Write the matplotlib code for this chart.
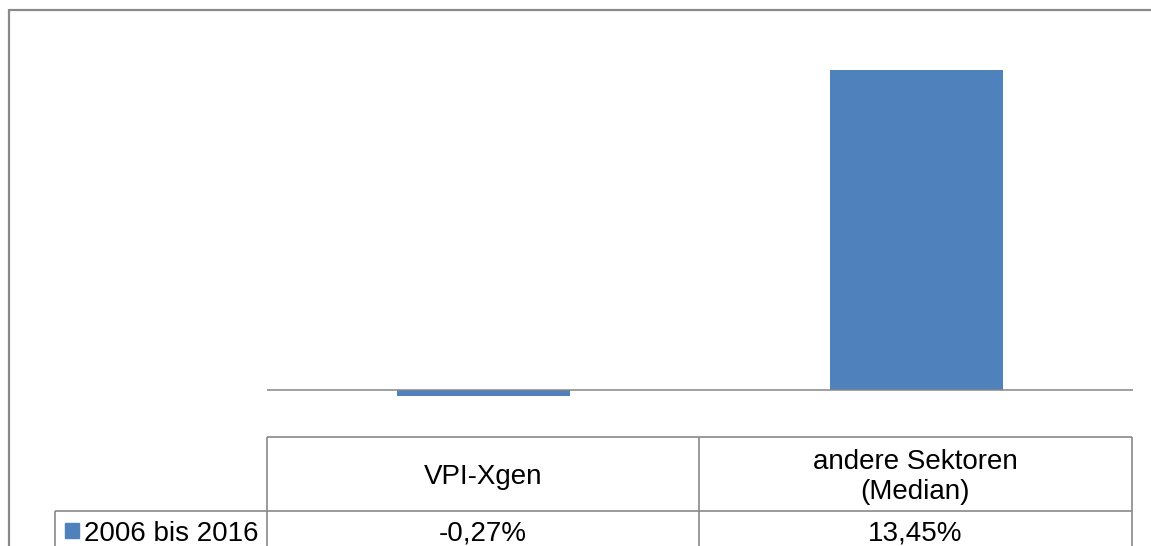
import matplotlib
matplotlib.use("Agg")
import matplotlib.pyplot as plt
from matplotlib.patches import Rectangle

plt.rcParams['font.family'] = ['Liberation Sans', 'DejaVu Sans']

# data
categories = ['VPI-Xgen', 'andere Sektoren\n(Median)']
values = [-0.27, 13.45]
series_label = '2006 bis 2016'

bar_color = '#4F81BD'
line_color = '#898989'

W, H = 1151, 546
fig = plt.figure(figsize=(W / 100, H / 100), dpi=100)

# overlay axes in pixel coordinates for frame and data table
ov = fig.add_axes([0, 0, 1, 1])
ov.set_xlim(0, W)
ov.set_ylim(H, 0)
ov.axis('off')

# plot area: zero at y=390 px, ~23.8 px per percent point
y_lo, y_hi = -0.5, 15.5
px_per = 23.79
bottom_px = 390 + (0 - y_lo) * px_per
top_px = 390 - y_hi * px_per
left_px, right_px = 267, 1133
ax = fig.add_axes([left_px / W, 1 - bottom_px / H,
                   (right_px - left_px) / W, (bottom_px - top_px) / H])
x = list(range(len(categories)))
ax.bar(x, values, width=0.4, color=bar_color, zorder=2)
ax.axhline(0, color='#868686', lw=1.1, zorder=3)
ax.set_xlim(-0.5, len(categories) - 0.5)
ax.set_ylim(y_lo, y_hi)
ax.axis('off')

# outer chart frame (cut off at right and bottom)
ov.plot([9, W], [9.5, 9.5], color=line_color, lw=1.6, solid_capstyle='butt')
ov.plot([9, 9], [9, H], color=line_color, lw=1.6, solid_capstyle='butt')

# data table
col_edges = [267, 699, 1132]
leg_left = 55
head_top, row_div = 437, 511
tkw = dict(color=line_color, lw=1.2, solid_capstyle='butt')
ov.plot([col_edges[0], col_edges[-1]], [head_top, head_top], **tkw)
ov.plot([leg_left, col_edges[-1]], [row_div, row_div], **tkw)
for xe in col_edges:
    ov.plot([xe, xe], [head_top, H], **tkw)
ov.plot([leg_left, leg_left], [row_div, H], **tkw)

for i, (cat, v) in enumerate(zip(categories, values)):
    cx = (col_edges[i] + col_edges[i + 1]) / 2
    # baseline of the last line of the header text
    ty = 484 if '\n' not in cat else 499
    ov.text(cx, ty, cat, ha='center', va='baseline', fontsize=20,
            multialignment='center', linespacing=1.18)
    ov.text(cx, 541, f'{v:.2f}'.replace('.', ',') + '%', ha='center',
            va='baseline', fontsize=20)

ov.add_patch(Rectangle((65, 523), 14, 15, color=bar_color))
ov.text(84, 541, series_label, ha='left', va='baseline', fontsize=20)

fig.savefig('out.png', dpi=100)
